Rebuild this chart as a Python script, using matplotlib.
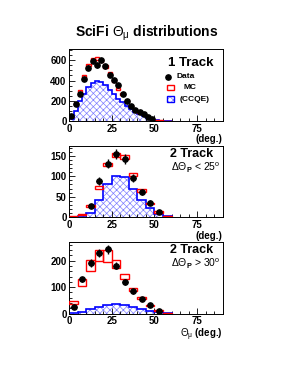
import numpy as np
import matplotlib
matplotlib.use("Agg")
import matplotlib.pyplot as plt
from matplotlib.ticker import MultipleLocator
from matplotlib.patches import Rectangle

plt.rcParams['font.family'] = ['Liberation Sans', 'DejaVu Sans']
plt.rcParams['mathtext.fontset'] = 'custom'
plt.rcParams['mathtext.rm'] = 'Liberation Sans'
plt.rcParams['mathtext.it'] = 'Liberation Sans'
plt.rcParams['mathtext.bf'] = 'Liberation Sans:bold'
plt.rcParams['hatch.linewidth'] = 0.5

# ---- panel 1: 1 track, 2.5 deg bins
edges1 = np.arange(0, 60.1, 2.5)
data1 = np.array([46, 172, 270, 419, 528, 597, 551, 600, 541, 459, 403, 360,
                  270, 195, 148, 106, 86, 69, 40, 23, 0, 0, 0, 0])
data1_err = np.array([7, 13, 16, 20, 23, 24, 23, 24, 23, 21, 20, 19,
                      16, 14, 12, 10, 9, 8, 6, 5, 0, 0, 0, 0])
mc1 = np.array([40, 170, 297, 442, 554, 609, 620, 600, 540, 469, 400, 320,
                265, 195, 148, 108, 85, 65, 40, 25, 12, 6, 3, 1])
mc1_err = np.array([4, 8, 10, 12, 13, 14, 14, 14, 13, 12, 11, 10,
                    9, 8, 7, 6, 5, 4, 3, 3, 2, 1, 1, 1])
ccqe1 = np.array([25, 100, 200, 270, 340, 380, 398, 385, 355, 310, 265, 222,
                  185, 150, 118, 88, 65, 45, 30, 18, 10, 5, 2, 1])

# ---- panel 2: 2 track, dTheta_p < 25, 5 deg bins
edges2 = np.arange(0, 60.1, 5)
data2 = np.array([0, 0, 27, 88, 131, 154, 142, 96, 62, 36, 13, 0])
data2_err = np.array([0, 0, 5, 9, 11, 12, 12, 10, 8, 6, 4, 0])
mc2 = np.array([3, 7, 28, 73, 128, 152, 148, 104, 65, 34, 13, 2])
mc2_err = np.array([1, 1, 2, 3, 4, 5, 5, 4, 3, 2, 2, 1])
ccqe2 = np.array([1, 2, 11, 42, 82, 100, 97, 68, 42, 22, 8, 2])

# ---- panel 3: 2 track, dTheta_p > 30
edges3 = np.arange(0, 60.1, 5)
data3 = np.array([25, 129, 191, 230, 242, 180, 120, 84, 56, 31, 11, 0])
data3_err = np.array([5, 11, 14, 15, 16, 13, 11, 9, 7, 6, 3, 0])
mc3 = np.array([41, 117, 181, 220, 217, 187, 141, 92, 58, 31, 12, 1])
mc3_err = np.array([5, 14, 20, 21, 21, 16, 10, 6, 3, 2, 2, 1])
ccqe3 = np.array([2, 6, 17, 27, 33, 36, 32, 27, 19, 12, 5, 1])

panels = [
    dict(edges=edges1, data=data1, derr=data1_err, mc=mc1, mcerr=mc1_err, cc=ccqe1,
         ymax=708, major=200, minor=50, xerr=0.9, pos=[0.231, 0.688, 0.511, 0.185]),
    dict(edges=edges2, data=data2, derr=data2_err, mc=mc2, mcerr=mc2_err, cc=ccqe2,
         ymax=174, major=50, minor=10, xerr=1.8, pos=[0.231, 0.440, 0.511, 0.184]),
    dict(edges=edges3, data=data3, derr=data3_err, mc=mc3, mcerr=mc3_err, cc=ccqe3,
         ymax=271, major=100, minor=20, xerr=1.8, pos=[0.231, 0.1915, 0.511, 0.1855]),
]

fig = plt.figure(figsize=(3.0, 3.88), dpi=100)
axes = []
for p in panels:
    ax = fig.add_axes(p['pos'])
    e = p['edges']
    c = 0.5 * (e[:-1] + e[1:])
    w = e[1] - e[0]
    ax.stairs(p['cc'], e, fill=True, facecolor='white', edgecolor='#7f7fff',
              hatch='xxxxx', lw=0, zorder=1)
    ax.stairs(p['cc'], e, color='blue', lw=1.2, zorder=2)
    ax.bar(c, 2 * p['mcerr'], bottom=p['mc'] - p['mcerr'], width=w, fill=False,
           edgecolor='red', lw=1.0, zorder=3)
    m = p['data'] > 0
    ax.errorbar(c[m], p['data'][m], yerr=p['derr'][m], xerr=p['xerr'], fmt='o',
                color='black', ms=3.8, elinewidth=1.0, capsize=0, zorder=4)
    ax.set_xlim(0, 90)
    ax.set_ylim(0, p['ymax'])
    ax.xaxis.set_major_locator(MultipleLocator(25))
    ax.xaxis.set_minor_locator(MultipleLocator(5))
    ax.yaxis.set_major_locator(MultipleLocator(p['major']))
    ax.yaxis.set_minor_locator(MultipleLocator(p['minor']))
    ax.tick_params(which='both', direction='in', top=False, right=False,
                   labelsize=7, width=0.6)
    ax.tick_params(which='major', length=4, pad=2)
    ax.tick_params(which='minor', length=2)
    for lab in ax.get_xticklabels() + ax.get_yticklabels():
        lab.set_fontweight('bold')
    for s in ax.spines.values():
        s.set_linewidth(0.7)
    axes.append(ax)

# panel text
a1, a2, a3 = axes
a1.text(0.94, 0.81, '1 Track', transform=a1.transAxes, ha='right', va='center',
        fontsize=9.5, fontweight='bold')
a1.plot([0.645], [0.618], 'o', color='black', ms=3.8, transform=a1.transAxes,
        clip_on=False)
a1.text(0.70, 0.618, 'Data', transform=a1.transAxes, ha='left', va='center',
        fontsize=6, fontweight='bold')
a1.add_patch(Rectangle((0.637, 0.43), 0.045, 0.075, transform=a1.transAxes,
                       fill=False, edgecolor='red', lw=1.0))
a1.text(0.745, 0.464, 'MC', transform=a1.transAxes, ha='left', va='center',
        fontsize=6, fontweight='bold')
a1.add_patch(Rectangle((0.637, 0.268), 0.045, 0.075, transform=a1.transAxes,
                       facecolor='white', edgecolor='#7f7fff', hatch='xxxxx', lw=0))
a1.add_patch(Rectangle((0.637, 0.268), 0.045, 0.075, transform=a1.transAxes,
                       fill=False, edgecolor='blue', lw=1.0))
a1.text(0.72, 0.303, '(CCQE)', transform=a1.transAxes, ha='left', va='center',
        fontsize=6, fontweight='bold')

for ax, lab in [(a2, r'$\mathrm{\Delta\Theta}_{\mathbf{P}}$ < 25$^{\mathrm{o}}$'),
                (a3, r'$\mathrm{\Delta\Theta}_{\mathbf{P}}$ > 30$^{\mathrm{o}}$')]:
    ax.text(0.94, 0.88, '2 Track', transform=ax.transAxes, ha='right',
            va='center', fontsize=9, fontweight='bold')
    ax.text(0.985, 0.69, lab, transform=ax.transAxes, ha='right', va='center',
            fontsize=7.5)

fig.text(0.742, 0.642, '(deg.)', ha='right', va='center', fontsize=7,
         fontweight='bold')
fig.text(0.742, 0.3926, '(deg.)', ha='right', va='center', fontsize=7,
         fontweight='bold')
fig.text(0.742, 0.137, r'$\mathrm{\Theta}_{\mathrm{\mu}}$ (deg.)', ha='right',
         va='center', fontsize=7, fontweight='bold')

fig.text(0.49, 0.915, r'SciFi $\mathrm{\Theta}_{\mathrm{\mu}}$ distributions',
         ha='center', va='center', fontsize=10, fontweight='bold')

fig.savefig('out.png', dpi=100)
